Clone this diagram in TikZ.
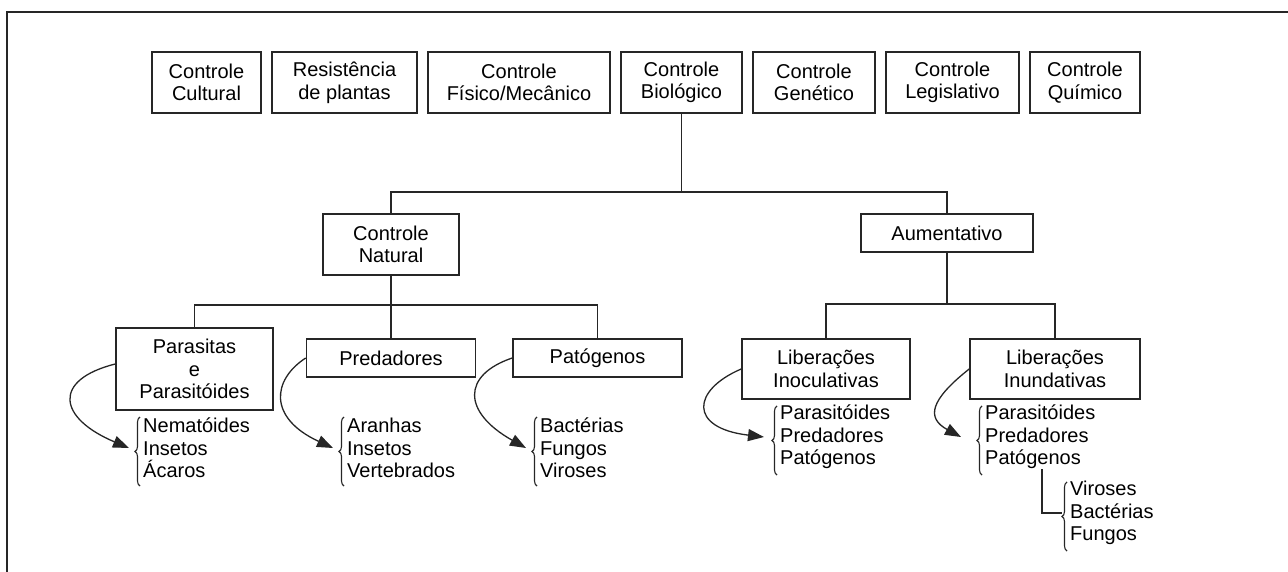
\documentclass[tikz,border=0pt]{standalone}
\usepackage{fontspec}
\setmainfont{Liberation Sans}
\usetikzlibrary{arrows.meta,decorations.pathreplacing}
\begin{document}
\begin{tikzpicture}[x=1pt,y=-1pt]
	\tikzstyle{box}=[draw=black!85,line width=1.6pt,align=center,inner sep=0pt,font=\fontsize{20}{22.6}\selectfont]
	\tikzstyle{items}=[anchor=west,align=left,inner sep=0pt,font=\fontsize{20}{22.6}\selectfont]
	\tikzstyle{edge}=[draw=black!85,line width=1.3pt]
	\tikzstyle{curv}=[draw=black!85,line width=1.3pt,-{Triangle[length=16pt,width=12pt]}]
	\tikzstyle{brc}=[draw=black!85,line width=1.1pt,decorate,decoration={brace,amplitude=5pt}]

	\useasboundingbox (0,0) rectangle (1288,572);
	\draw[line width=2.8pt,black!85] (7,600) |- (1300,12);

	% top row
	\node [box,minimum width=109pt,minimum height=61pt] (cul) at (206.5,82.5) {Controle\\Cultural};
	\node [box,minimum width=145pt,minimum height=61pt] (res) at (344.5,82.5) {Resistência\\de plantas};
	\node [box,minimum width=182pt,minimum height=61pt] (fis) at (519,82.5) {Controle\\Físico/Mecânico};
	\node [box,minimum width=121pt,minimum height=61pt] (bio) at (681.5,82.5) {Controle\\Biológico};
	\node [box,minimum width=122pt,minimum height=61pt] (gen) at (814,82.5) {Controle\\Genético};
	\node [box,minimum width=133pt,minimum height=61pt] (leg) at (952.5,82.5) {Controle\\Legislativo};
	\node [box,minimum width=110pt,minimum height=61pt] (qui) at (1085,82.5) {Controle\\Químico};

	\node [box,minimum width=136pt,minimum height=61pt] (nat) at (391,244.5) {Controle\\Natural};
	\node [box,minimum width=172pt,minimum height=38pt] (aum) at (947,233) {Aumentativo};

	\node [box,minimum width=157pt,minimum height=82pt] (par) at (194.5,369) {Parasitas\\e\\Parasitóides};
	\node [box,minimum width=169pt,minimum height=38pt] (pre) at (391,358) {Predadores};
	\node [box,minimum width=169pt,minimum height=38pt] (pat) at (597.5,358) {Patógenos};
	\node [box,minimum width=168pt,minimum height=60pt] (ino) at (826,369) {Liberações\\Inoculativas};
	\node [box,minimum width=170pt,minimum height=60pt] (inu) at (1055,369) {Liberações\\Inundativas};

	% tree lines
	\coordinate (j1) at (681.5,192);
	\coordinate (j2) at (391,305);
	\coordinate (j3) at (947,304);
	\draw[edge] (bio.south) -- (j1);
	\draw[edge] (nat.north) |- (j1) -| (aum.north);
	\draw[edge] (nat.south) -- (pre.north);
	\draw[edge] (par.north) |- (j2) -| (pat.north);
	\draw[edge] (aum.south) -- (j3);
	\draw[edge] (ino.north) |- (j3) -| (inu.north);

	% lists
	\node [items] (l1) at (143,448) {Nematóides\\Insetos\\Ácaros};
	\node [items] (l2) at (347,448) {Aranhas\\Insetos\\Vertebrados};
	\node [items] (l3) at (540,448) {Bactérias\\Fungos\\Viroses};
	\node [items] (l4) at (780,437) {Parasitóides\\Predadores\\Patógenos};
	\node [items] (l5) at (985,437) {Parasitóides\\Predadores\\Patógenos};
	\node [items] (l6) at (1070,513) {Viroses\\Bactérias\\Fungos};

	\foreach \l in {l1,l2,l3,l4,l5,l6}
		\draw[brc] ([xshift=-3pt,yshift=-38pt]\l.west) -- ([xshift=-3pt,yshift=31pt]\l.west);

	\draw[curv] ([yshift=5pt]par.west) .. controls (52,380) and (58,418) .. ([xshift=-14pt]l1.west);
	\draw[curv] (pre.west) .. controls (272,380) and (268,418) .. ([xshift=-14pt]l2.west);
	\draw[curv] (pat.west) .. controls (462,375) and (462,412) .. ([xshift=-14pt]l3.west);
	\draw[curv] (ino.west) .. controls (692,390) and (688,428) .. ([xshift=-16pt]l4.west);
	\draw[curv] (inu.west) .. controls (930,400) and (926,418) .. ([xshift=-24pt]l5.west);

	\draw[edge] ([xshift=57pt]l5.south west) |- ([xshift=-8pt]l6.west);
\end{tikzpicture}
\end{document}
